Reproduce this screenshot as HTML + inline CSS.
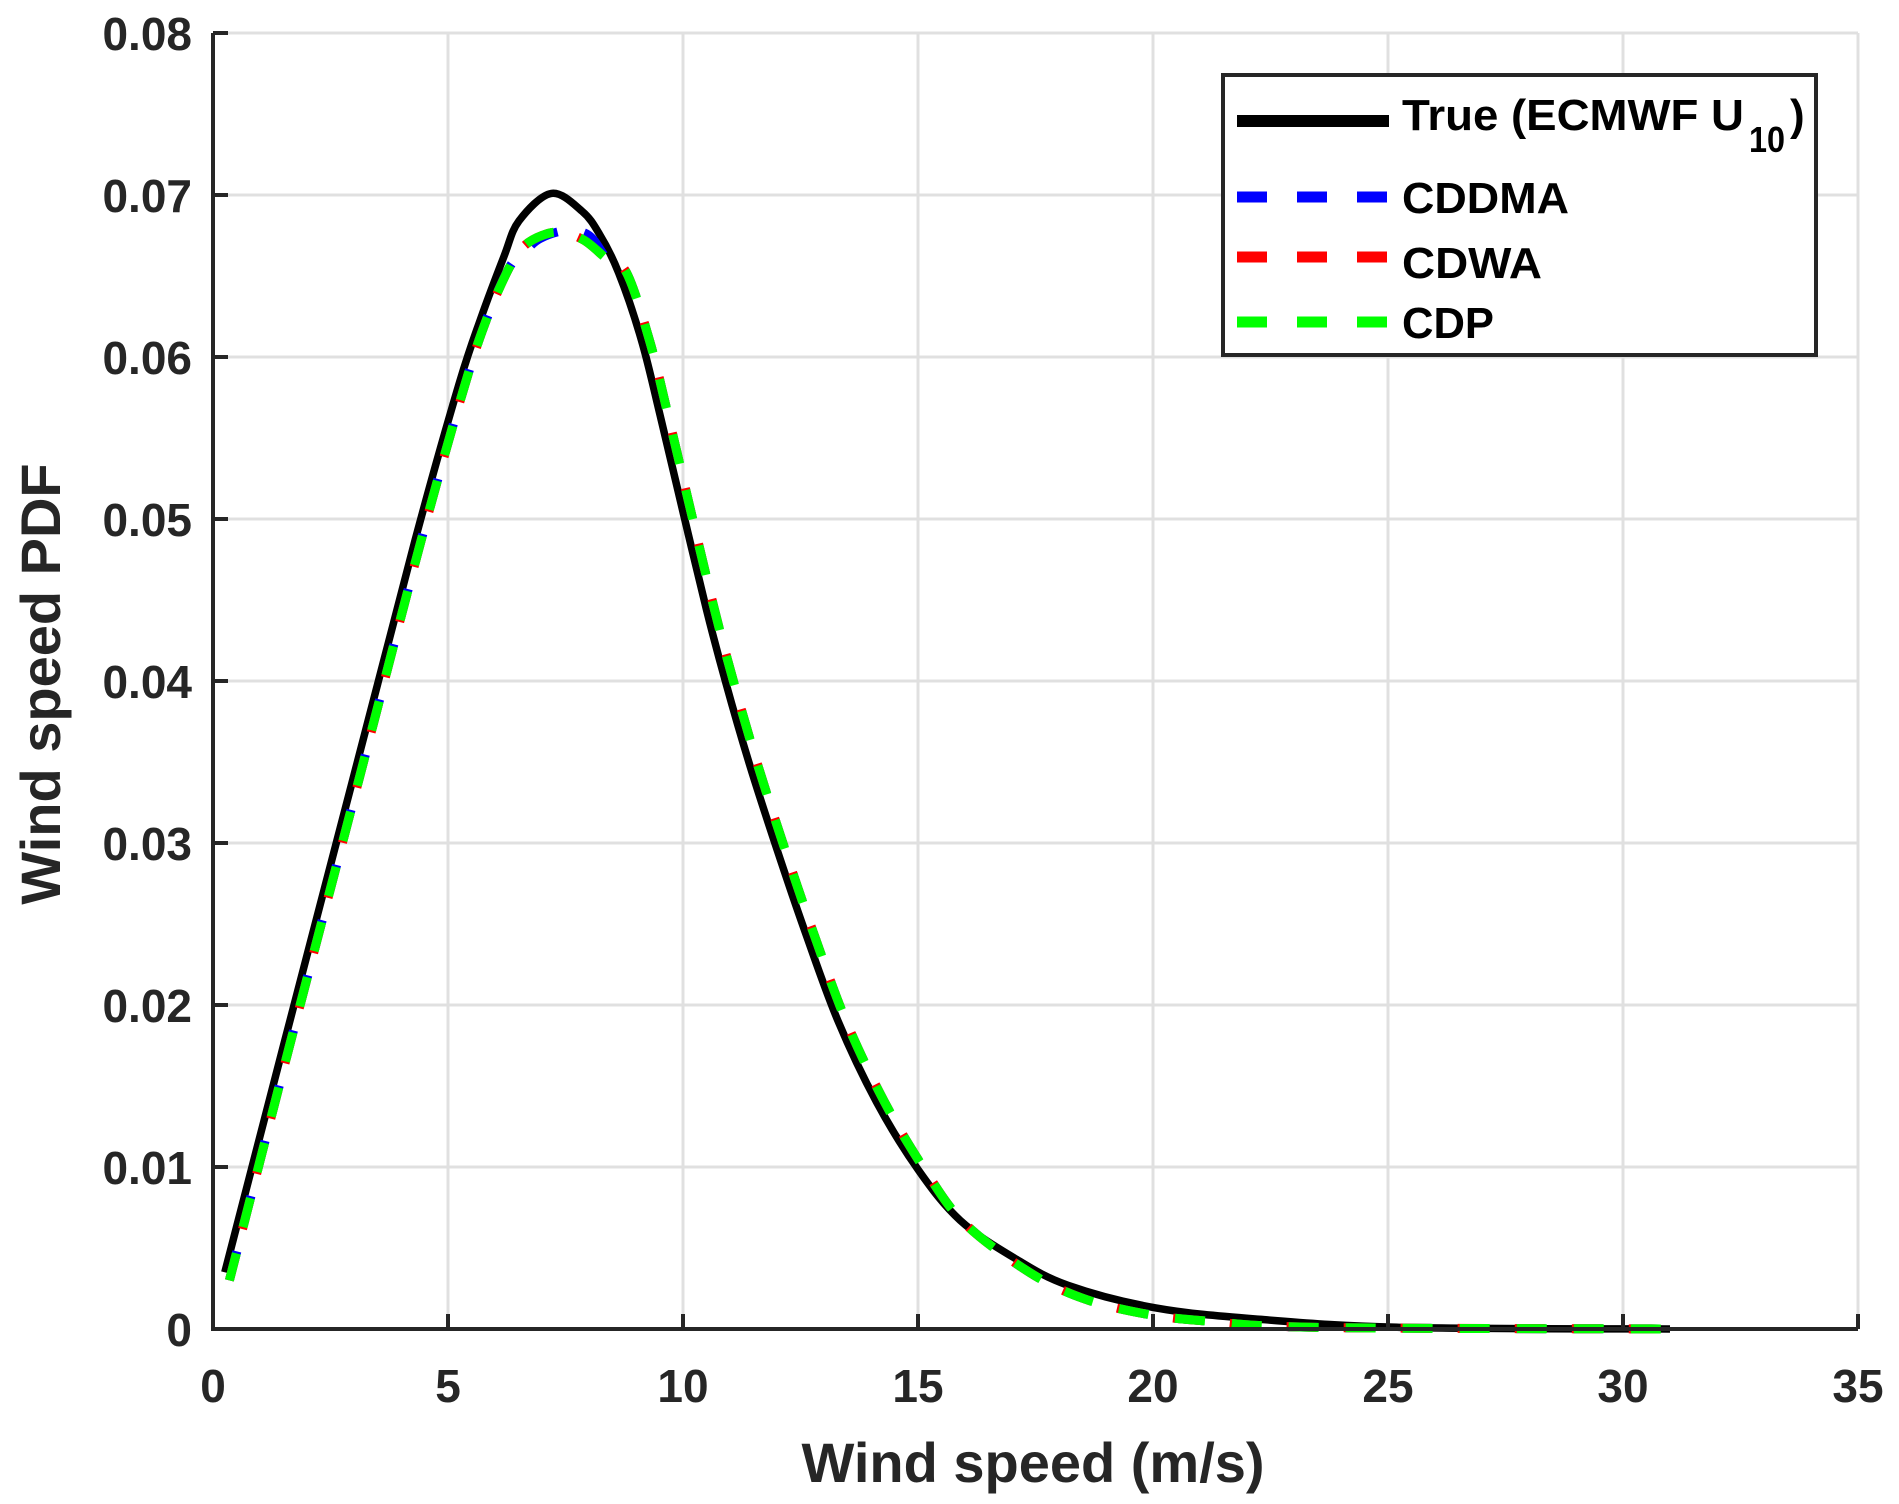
<!DOCTYPE html>
<html><head><meta charset="utf-8"><style>html,body{margin:0;padding:0;background:#fff}svg{display:block}</style></head>
<body>
<svg id="s" width="1899" height="1504" viewBox="0 0 1899 1504" xmlns="http://www.w3.org/2000/svg" font-family="Liberation Sans, Arial, sans-serif" font-weight="bold">
<rect width="1899" height="1504" fill="#fff"/>
<g id="grid" stroke="#e0e0e0" stroke-width="3"></g>
<g id="curves" fill="none" stroke-linejoin="round"></g>
<g id="axes" stroke="#262626" stroke-width="4" fill="none"></g>
<g id="labels" fill="#262626" font-size="46"></g>
<text x="1033" y="1482" font-size="56" text-anchor="middle" fill="#262626">Wind speed (m/s)</text>
<text transform="translate(60,684) rotate(-90)" font-size="56" text-anchor="middle" fill="#262626">Wind speed PDF</text>
<g>
<rect x="1223" y="75" width="593" height="280" fill="#fff" stroke="#262626" stroke-width="4"/>
<line x1="1237" y1="121" x2="1389" y2="121" stroke="#000" stroke-width="12"/>
<line x1="1237" y1="197" x2="1389" y2="197" stroke="#0000ff" stroke-width="11" stroke-dasharray="30,30"/>
<line x1="1237" y1="257" x2="1389" y2="257" stroke="#ff0000" stroke-width="11" stroke-dasharray="30,30"/>
<line x1="1237" y1="322" x2="1389" y2="322" stroke="#00ff00" stroke-width="11" stroke-dasharray="30,30"/>
<text x="1402" y="130" font-size="44" fill="#000" textLength="342" lengthAdjust="spacingAndGlyphs">True (ECMWF U</text>
<text x="1749" y="152" font-size="36" fill="#000" textLength="36" lengthAdjust="spacingAndGlyphs">10</text>
<text x="1790" y="130" font-size="44" fill="#000">)</text>
<text x="1402" y="213" font-size="44" fill="#000" textLength="167" lengthAdjust="spacingAndGlyphs">CDDMA</text>
<text x="1402" y="278" font-size="44" fill="#000" textLength="140" lengthAdjust="spacingAndGlyphs">CDWA</text>
<text x="1402" y="338" font-size="44" fill="#000" textLength="92" lengthAdjust="spacingAndGlyphs">CDP</text>
</g>
</svg>
<script>
var NS="http://www.w3.org/2000/svg";
function X(v){return 213+v*47;} function Y(v){return 1329-v*16200;}
function el(p,t,a,txt){var e=document.createElementNS(NS,t);for(var k in a)e.setAttribute(k,a[k]);if(txt!==undefined)e.textContent=txt;document.getElementById(p).appendChild(e);return e;}
for(var i=1;i<=7;i++){el("grid","line",{x1:X(i*5),y1:33,x2:X(i*5),y2:1329});}
for(var j=1;j<=8;j++){el("grid","line",{x1:213,y1:Y(j*0.01),x2:1858,y2:Y(j*0.01)});}
var tr=[[0.25,0.0035],[1.5,0.0175],[3.0,0.0342],[4.3,0.0487],[5.21,0.0581],[5.7,0.0624],[6.19,0.0662],[6.51,0.0684],[7.2,0.0701],[7.85,0.069],[8.22,0.0676],[8.63,0.0652],[9.12,0.061],[9.53,0.0562],[10.01,0.0503],[10.5,0.0444],[10.91,0.0399],[11.4,0.0350],[12.0,0.0296],[12.6,0.0245],[13.3,0.019],[14.12,0.0140],[15.01,0.0098],[15.9,0.0067],[17.04,0.0044],[18.19,0.0027],[20.06,0.0013],[22.26,0.0006],[25.3,0.0001],[31,0]];
function path(a){var p=a.map(function(q){return [X(q[0]),Y(q[1])];});var d="M"+p[0][0].toFixed(1)+","+p[0][1].toFixed(1);
for(var i=0;i<p.length-1;i++){var p0=p[i-1]||p[i],p1=p[i],p2=p[i+1],p3=p[i+2]||p2;
var c1x=p1[0]+(p2[0]-p0[0])/6,c1y=p1[1]+(p2[1]-p0[1])/6,c2x=p2[0]-(p3[0]-p1[0])/6,c2y=p2[1]-(p3[1]-p1[1])/6;
d+=" C"+c1x.toFixed(1)+","+c1y.toFixed(1)+" "+c2x.toFixed(1)+","+c2y.toFixed(1)+" "+p2[0].toFixed(1)+","+p2[1].toFixed(1);}return d;}
var ds=[[0.35,0.003],[1.63,0.0175],[3.13,0.0342],[4.43,0.0487],[5.34,0.0581],[5.83,0.0624],[6.3,0.0655],[6.6,0.0668],[7.0,0.0675],[7.4,0.0677],[7.9,0.0672],[8.4,0.066],[8.8,0.0652],[9.29,0.061],[9.7,0.0562],[10.18,0.0503],[10.67,0.0444],[11.08,0.0399],[11.57,0.0350],[12.17,0.0296],[12.77,0.0245],[13.47,0.019],[14.29,0.0140],[15.15,0.0098],[16.0,0.0065],[17.37,0.0035],[18.5,0.0019],[19.8,0.00095],[21.1,0.0005],[23.5,0.0001],[31,0]];
var db=ds.map(function(p){return p.slice();});db[7]=[6.6,0.0664];db[8]=[6.95,0.0673];db[9]=[7.5,0.0678];db[10]=[8.0,0.0675];
el("curves","path",{d:path(tr),stroke:"#000","stroke-width":7.5});
el("curves","path",{d:path(db),stroke:"#0000ff","stroke-width":9,"stroke-dasharray":"30,27"});
el("curves","path",{d:path(ds),stroke:"#ff0000","stroke-width":9,"stroke-dasharray":"30,27","stroke-dashoffset":"4"});
el("curves","path",{d:path(ds),stroke:"#00ff00","stroke-width":9,"stroke-dasharray":"30,27","stroke-dashoffset":"2"});
el("axes","polyline",{points:"213,33 213,1329 1858,1329"});
for(var i=0;i<=7;i++){el("axes","line",{x1:X(i*5),y1:1329,x2:X(i*5),y2:1314});
 el("labels","text",{x:X(i*5),y:1402,"text-anchor":"middle"},String(i*5));}
for(var j=0;j<=8;j++){el("axes","line",{x1:213,y1:Y(j*0.01),x2:228,y2:Y(j*0.01)});
 el("labels","text",{x:192,y:Y(j*0.01)+17,"text-anchor":"end"},j==0?"0":"0.0"+j);}
</script>
</body></html>
